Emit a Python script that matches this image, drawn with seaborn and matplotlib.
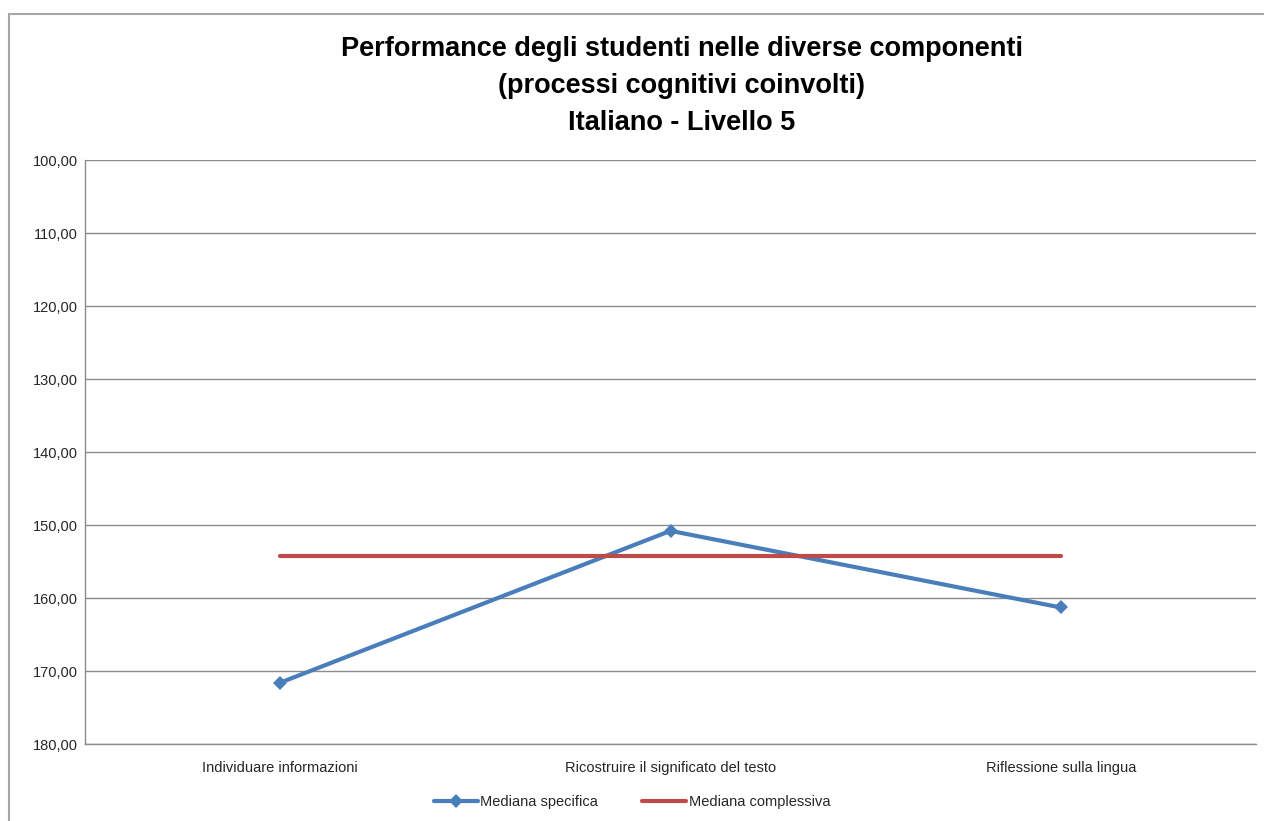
import matplotlib
matplotlib.use("Agg")
import matplotlib.pyplot as plt
from matplotlib.patches import Rectangle
from matplotlib.ticker import FuncFormatter
import pandas as pd
import seaborn as sns

categories = ["Individuare informazioni", "Ricostruire il significato del testo", "Riflessione sulla lingua"]
mediana_specifica = [171.6, 150.8, 161.3]
mediana_complessiva = [154.2, 154.2, 154.2]
y_ticks = [100, 110, 120, 130, 140, 150, 160, 170, 180]

sns.set_theme(style="white")
plt.rcParams["font.family"] = ["Liberation Sans", "DejaVu Sans"]

df = pd.DataFrame({
    "pos": list(range(len(categories))) * 2,
    "valore": mediana_specifica + mediana_complessiva,
    "serie": ["Mediana specifica"] * 3 + ["Mediana complessiva"] * 3,
})

fig = plt.figure(figsize=(12.64, 8.21), dpi=100)
ax = fig.add_axes([85 / 1264, 1 - 744 / 821, (1256 - 85) / 1264, (744 - 160) / 821])

# outer chart frame
fig.patches.append(Rectangle((9 / 1264, -0.1), 1.2, 1 - 14 / 821 + 0.1, transform=fig.transFigure,
                             fill=False, edgecolor="#a6a6a6", linewidth=1.5))

palette = {"Mediana specifica": "#4a7ebb", "Mediana complessiva": "#be4b48"}
sns.lineplot(data=df[df.serie == "Mediana specifica"], x="pos", y="valore", ax=ax,
             color=palette["Mediana specifica"], linewidth=3, marker="D", markersize=7,
             markeredgewidth=0, label="Mediana specifica")
sns.lineplot(data=df[df.serie == "Mediana complessiva"], x="pos", y="valore", ax=ax,
             color=palette["Mediana complessiva"], linewidth=3, label="Mediana complessiva")

ax.set_xlim(-0.5, 2.5)
ax.set_ylim(180, 100)
ax.set_yticks(y_ticks)
ax.yaxis.set_major_formatter(FuncFormatter(lambda v, p: f"{v:.2f}".replace(".", ",")))
ax.set_xticks(range(len(categories)))
ax.set_xticklabels(categories)
ax.tick_params(axis="both", length=0, labelsize=10.5, colors="#262626")
ax.tick_params(axis="y", pad=5)
ax.tick_params(axis="x", pad=12)
ax.set_xlabel("")
ax.set_ylabel("")
ax.grid(axis="y", color="#8c8c8c", linewidth=1)
ax.grid(axis="x", visible=False)
for side in ["top", "right"]:
    ax.spines[side].set_visible(False)
for side in ["left", "bottom"]:
    ax.spines[side].set_color("#8c8c8c")
    ax.spines[side].set_linewidth(1)

fig.text(682 / 1264, 1 - 86 / 821,
         "Performance degli studenti nelle diverse componenti\n(processi cognitivi coinvolti)\nItaliano - Livello 5",
         ha="center", va="center", fontsize=19.5, fontweight="bold", linespacing=1.55, color="black")

leg = ax.legend(loc="center", bbox_to_anchor=(0.5, 1 - 802 / 821), bbox_transform=fig.transFigure,
                ncol=2, frameon=False, fontsize=10.5, handlelength=3, columnspacing=3, handletextpad=0.2)
for t in leg.get_texts():
    t.set_color("#262626")

fig.savefig("out.png", dpi=100, facecolor="white")
